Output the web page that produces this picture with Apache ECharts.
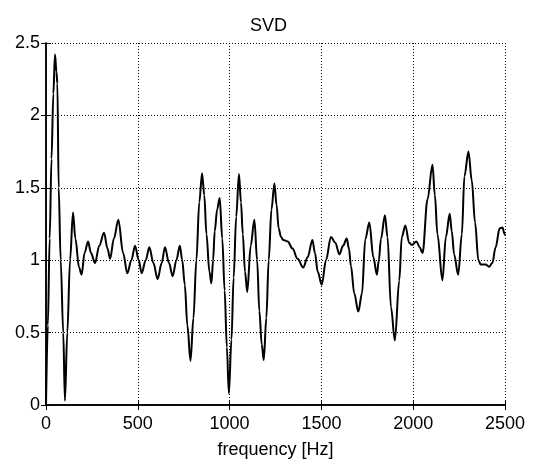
<!DOCTYPE html>
<html>
<head>
<meta charset="utf-8">
<script src="https://cdn.jsdelivr.net/npm/echarts@6/dist/echarts.min.js"></script>
<style>html,body{margin:0;padding:0;background:#fff}#c{width:537px;height:464px}</style>
</head>
<body>
<div id="c"></div>
<script>
const titleText = 'SVD';
const xName = 'frequency [Hz]';
const xTicks = [0, 500, 1000, 1500, 2000, 2500];
const yTicks = [0, 0.5, 1, 1.5, 2, 2.5];
const freqs = [0,10,20,30,40,49,57,62,69,80,94,103,116,131,147,160,180,194,210,229,245,267,290,316,335,349,370,394,420,443,465,485,505,521,543,563,585,608,630,648,670,690,710,729,742,756,770,787,803,819,835,850,862,874,890,901,910,919,932,946,960,973,985,996,1010,1022,1036,1051,1062,1072,1084,1096,1115,1135,1150,1162,1175,1186,1200,1213,1228,1244,1256,1267,1280,1292,1316,1343,1370,1401,1425,1451,1465,1480,1502,1525,1552,1576,1598,1618,1638,1650,1661,1679,1701,1721,1739,1761,1783,1802,1813,1824,1846,1860,1879,1900,1924,1938,1957,1978,1993,2018,2035,2051,2078,2105,2118,2132,2159,2178,2199,2210,2223,2245,2265,2279,2301,2319,2337,2355,2368,2395,2413,2431,2449,2471,2486,2498,2500];
const svd = [0.0,0.55,1.15,1.7,2.15,2.42,2.3,2.22,1.5,1.0,0.5,0.03,0.5,1.0,1.33,1.15,0.95,0.9,1.05,1.13,1.05,0.98,1.1,1.19,1.08,1.01,1.15,1.28,1.05,0.91,1.0,1.1,1.0,0.91,1.0,1.09,0.98,0.87,0.98,1.09,0.98,0.89,1.0,1.1,1.0,0.83,0.55,0.305,0.6,1.0,1.4,1.6,1.45,1.18,0.92,0.84,1.0,1.2,1.35,1.43,1.15,0.79,0.4,0.08,0.45,0.88,1.3,1.595,1.4,1.18,0.92,0.78,1.1,1.28,1.0,0.65,0.42,0.31,0.6,1.0,1.35,1.53,1.38,1.22,1.16,1.14,1.13,1.08,1.01,0.95,1.02,1.14,1.05,0.92,0.83,1.0,1.16,1.12,1.04,1.1,1.15,1.08,0.96,0.77,0.645,0.77,1.145,1.26,1.02,0.9,1.0,1.145,1.31,1.16,0.675,0.445,0.86,1.16,1.24,1.12,1.105,1.13,1.09,1.05,1.42,1.66,1.45,1.18,0.86,1.16,1.32,1.2,1.04,0.9,1.18,1.58,1.75,1.55,1.26,1.0,0.97,0.97,0.955,0.98,1.09,1.22,1.225,1.18,1.17];

const font = 'Liberation Sans, Arial, sans-serif';
const chart = echarts.init(document.getElementById('c'), null, {renderer: 'canvas'});
const frameAxisLine = {show: true, lineStyle: {color: '#000', width: 1.5}};
const tick = {show: true, inside: true, length: 5, lineStyle: {color: '#000', width: 1}};
chart.setOption({
  animation: false,
  backgroundColor: '#fff',
  title: {text: titleText, left: 'center', top: 12, textStyle: {fontFamily: font, fontSize: 18, fontWeight: 'normal', color: '#000'}},
  grid: {left: 46, right: 32, top: 43, bottom: 59, containLabel: false},
  xAxis: [{
    type: 'value', min: xTicks[0], max: xTicks[xTicks.length - 1], interval: 500,
    name: xName, nameLocation: 'middle', nameGap: 36,
    nameTextStyle: {fontFamily: font, fontSize: 18, color: '#000'},
    axisLine: frameAxisLine, axisTick: tick,
    axisLabel: {fontFamily: font, fontSize: 18, color: '#000', margin: 10, formatter: v => String(v)},
    splitLine: {show: true, lineStyle: {color: '#000', width: 1, type: [1, 2]}}
  }, {
    type: 'value', position: 'top', min: xTicks[0], max: xTicks[xTicks.length - 1], interval: 500,
    axisLine: frameAxisLine, axisTick: tick, axisLabel: {show: false}, splitLine: {show: false}
  }],
  yAxis: [{
    type: 'value', min: yTicks[0], max: yTicks[yTicks.length - 1], interval: 0.5,
    axisLine: frameAxisLine, axisTick: tick,
    axisLabel: {fontFamily: font, fontSize: 18, color: '#000', margin: 6, formatter: v => String(v)},
    splitLine: {show: true, lineStyle: {color: '#000', width: 1, type: [1, 2]}}
  }, {
    type: 'value', position: 'right', min: yTicks[0], max: yTicks[yTicks.length - 1], interval: 0.5,
    axisLine: frameAxisLine, axisTick: tick, axisLabel: {show: false}, splitLine: {show: false}
  }],
  series: [{
    type: 'line', xAxisIndex: 0, yAxisIndex: 0,
    data: freqs.map((f, i) => [f, svd[i]]),
    showSymbol: false, smooth: 0.35, smoothMonotone: 'x',
    lineStyle: {color: '#000', width: 2}
  }]
});
</script>
</body>
</html>
